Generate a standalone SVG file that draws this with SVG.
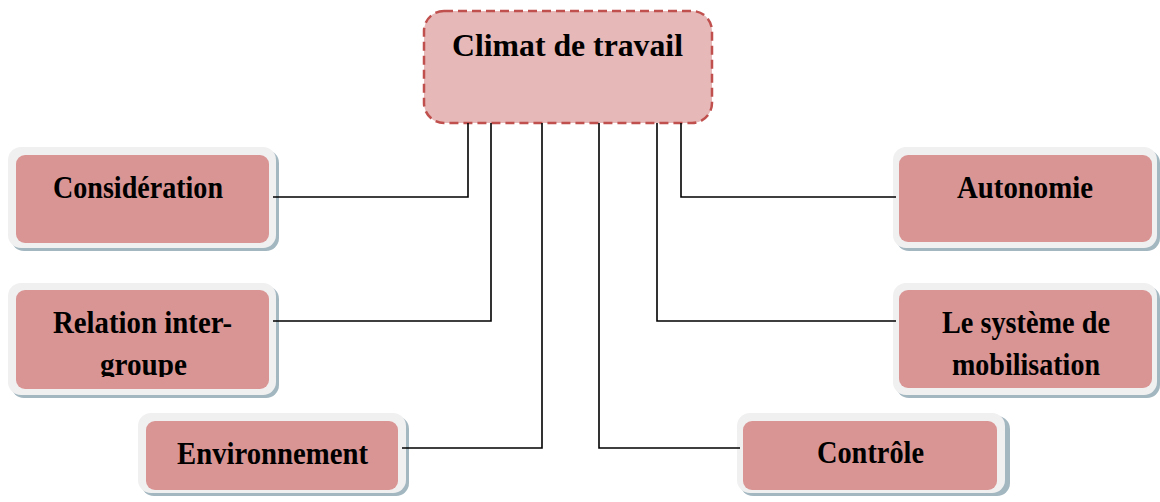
<svg xmlns="http://www.w3.org/2000/svg" width="1160" height="502" viewBox="0 0 1160 502">
<style>
.t{font-family:"Liberation Serif","Times New Roman",serif;font-weight:bold;font-size:32px;fill:#000}
.sh{fill:#a3b7c0}
.fr{fill:#f0f0f0}
.in{fill:#d99594}
.cn{fill:none;stroke:#000;stroke-width:1.6}
</style>
<defs>
<clipPath id="clipR"><rect x="0" y="280" width="300" height="97"/></clipPath>
</defs>
<rect width="1160" height="502" fill="#fff"/>
<g id="climat">
<rect x="424" y="11" width="288" height="112" rx="20" fill="#e6b8b8" stroke="#c0504d" stroke-width="2.5" stroke-dasharray="9,5"/>
<text class="t" x="452" y="56" textLength="231" lengthAdjust="spacingAndGlyphs">Climat de travail</text>
</g>
<g id="consideration">
<rect class="sh" x="11" y="150" width="268" height="101" rx="13"/>
<rect class="fr" x="8" y="147" width="268" height="101" rx="13"/>
<rect class="in" x="16" y="155" width="253" height="88" rx="9"/>
<text class="t" x="53" y="198" textLength="170" lengthAdjust="spacingAndGlyphs">Considération</text>
</g>
<g id="relation">
<rect class="sh" x="11" y="286" width="268" height="112" rx="13"/>
<rect class="fr" x="8" y="283" width="268" height="112" rx="13"/>
<rect class="in" x="16" y="290" width="253" height="99" rx="9"/>
<text class="t" x="53" y="333" textLength="179" lengthAdjust="spacingAndGlyphs">Relation  inter-</text>
<text class="t" x="100" y="375" textLength="87" lengthAdjust="spacingAndGlyphs" clip-path="url(#clipR)">groupe</text>
</g>
<g id="environnement">
<rect class="sh" x="141" y="416" width="268" height="80" rx="13"/>
<rect class="fr" x="138" y="413" width="268" height="80" rx="13"/>
<rect class="in" x="146" y="421" width="252" height="69" rx="9"/>
<text class="t" x="177" y="464" textLength="191" lengthAdjust="spacingAndGlyphs">Environnement</text>
</g>
<g id="autonomie">
<rect class="sh" x="896" y="150" width="264" height="101" rx="13"/>
<rect class="fr" x="893" y="147" width="264" height="101" rx="13"/>
<rect class="in" x="899" y="155" width="253" height="87" rx="9"/>
<text class="t" x="957" y="198" textLength="136" lengthAdjust="spacingAndGlyphs">Autonomie</text>
</g>
<g id="systeme">
<rect class="sh" x="896" y="286" width="264" height="112" rx="13"/>
<rect class="fr" x="893" y="283" width="264" height="112" rx="13"/>
<rect class="in" x="899" y="290" width="253" height="98" rx="9"/>
<text class="t" x="942" y="333" textLength="168" lengthAdjust="spacingAndGlyphs">Le système de</text>
<text class="t" x="952" y="375" textLength="148" lengthAdjust="spacingAndGlyphs">mobilisation</text>
</g>
<g id="controle">
<rect class="sh" x="740" y="416" width="270" height="80" rx="13"/>
<rect class="fr" x="737" y="413" width="268" height="80" rx="13"/>
<rect class="in" x="743" y="421" width="254" height="69" rx="9"/>
<text class="t" x="817" y="463" textLength="107" lengthAdjust="spacingAndGlyphs">Contrôle</text>
</g>
<g id="connectors">
<polyline class="cn" points="468,123 468,197 273,197"/>
<polyline class="cn" points="491,123 491,321 273,321"/>
<polyline class="cn" points="542,123 542,448 402,448"/>
<polyline class="cn" points="599,123 599,448 740,448"/>
<polyline class="cn" points="657,123 657,321 896,321"/>
<polyline class="cn" points="681,123 681,197 896,197"/>
</g>
</svg>
